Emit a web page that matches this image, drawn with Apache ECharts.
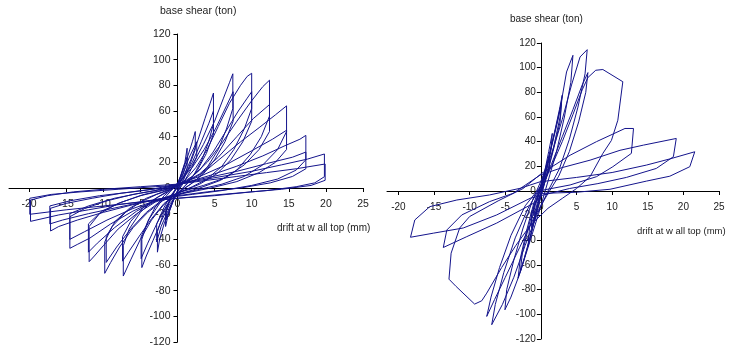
<!DOCTYPE html>
<html>
<head>
<meta charset="utf-8">
<script src="https://cdn.jsdelivr.net/npm/echarts@6/dist/echarts.min.js"></script>
<style>
  html, body { margin: 0; padding: 0; background: #fff; }
  #chart { width: 737px; height: 356px; }
</style>
</head>
<body>
<div id="chart"></div>
<script>
// tick labels
var xTicks = [-20, -15, -10, -5, 0, 5, 10, 15, 20, 25];
var yTitle = 'base shear (ton)';
var xTitle = 'drift at w all top (mm)';

// left wall: [drift mm, shear ton], one array per cycle
var L1 = [[0,0],[0.4,8],[0.9,17],[1.3,24],[1.3,15],[0.7,6],[0.1,-1],[-0.5,-9],[-1.1,-18],[-1.5,-25],[-1.5,-16],[-0.9,-7],[-0.3,-1]];
var L2 = [[-0.3,-1],[0.4,9],[1.0,20],[1.3,31],[1.3,20],[0.6,8],[0,-2],[-0.7,-12],[-1.3,-22],[-1.6,-30],[-1.6,-19],[-0.9,-8],[-0.2,0]];
var L3 = [[-0.2,0],[0.6,12],[1.4,25],[2.0,36],[2.4,44],[2.4,30],[1.6,17],[0.8,6],[0,-3],[-0.9,-14],[-1.8,-28],[-2.4,-40],[-2.7,-50],[-2.7,-34],[-1.9,-20],[-1,-9],[-0.2,-1]];
var L4 = [[-0.2,-1],[0.7,11],[1.6,24],[2.6,36],[2.6,24],[1.7,13],[0.7,3],[-0.3,-6],[-1.3,-18],[-2.2,-30],[-2.8,-42],[-2.8,-28],[-1.8,-15],[-0.8,-5],[0,0]];
var L5 = [[0,0],[0.8,9],[1.8,22],[2.8,38],[3.7,54],[4.4,66],[4.85,74],[4.85,50],[4.2,36],[3.3,22],[2.2,10],[1.1,2],[0,-5],[-1.1,-13],[-2.2,-26],[-3.3,-41],[-4.2,-53],[-4.8,-62],[-4.8,-40],[-4.0,-26],[-3.0,-15],[-1.8,-6],[-0.6,0]];
var L6 = [[-0.6,0],[0.8,8],[2,20],[3.2,36],[4.2,50],[4.85,60],[4.85,42],[3.9,27],[2.7,14],[1.4,4],[0,-4],[-1.4,-13],[-2.8,-28],[-4,-43],[-4.9,-55],[-4.9,-38],[-3.8,-24],[-2.4,-12],[-1,-3]];
var L7 = [[-1,-3],[0.5,6],[2,18],[3.5,34],[5,52],[6.2,70],[7,82],[7.46,89],[7.46,62],[6.6,46],[5.5,30],[4,16],[2.5,6],[1,0],[-0.5,-6],[-2,-14],[-3.5,-25],[-5,-40],[-6.3,-56],[-7.3,-68.6],[-7.3,-45],[-6.5,-32],[-5,-19],[-3.2,-9],[-1.5,-3]];
var L8 = [[-1.5,-3],[0.3,5],[2,16],[3.6,30],[5.2,47],[6.6,64],[7.5,75],[7.5,52],[6.4,36],[5,22],[3.5,11],[1.8,3],[0,-4],[-1.8,-12],[-3.5,-24],[-5.2,-38],[-6.6,-50],[-7.4,-57],[-7.4,-38],[-6.3,-26],[-4.6,-15],[-2.6,-7],[-1,-2]];
var L9 = [[-1,-2],[1,6],[2.5,16],[4,30],[5.5,48],[7,66],[8.5,80],[9.4,87],[10,89.4],[10,62],[9,46],[7.6,30],[6,17],[4,7],[2,1],[0,-4],[-2,-10],[-4,-19],[-6,-31],[-7.8,-46],[-9,-58],[-9.8,-66.5],[-9.8,-42],[-8.8,-30],[-7,-19],[-5,-11],[-2.8,-5],[-0.8,-1]];
var L10 = [[-0.8,-1],[1.2,5],[3,14],[4.8,28],[6.5,44],[8.2,60],[9.4,70],[10,75],[10,52],[8.8,36],[7.2,22],[5.3,11],[3,3],[0.5,-3],[-2,-9],[-4.2,-19],[-6.3,-32],[-8.2,-46],[-9.6,-58],[-9.6,-38],[-8.4,-26],[-6.5,-16],[-4.2,-8],[-2,-3]];
var L11 = [[-2,-3],[0,2],[2,9],[4,20],[6,35],[8,52],[10,68],[11.5,79],[12.4,84],[12.4,56],[11.3,40],[9.8,26],[8,14],[5.8,6],[3,0],[0,-5],[-3,-11],[-5.5,-20],[-8,-32],[-10,-45],[-11.2,-53],[-11.9,-57.4],[-11.9,-30],[-10.5,-20],[-8,-12],[-5,-6],[-2,-2]];
var L12 = [[-2,-2],[0.5,3],[3,11],[5.5,24],[8,40],[10.2,54],[12.4,65],[12.4,44],[11,30],[9,18],[6.5,8],[3.5,2],[0.5,-3],[-2.5,-9],[-5.5,-18],[-8.5,-31],[-10.8,-43],[-12,-50],[-12,-28],[-10.2,-18],[-7.5,-11],[-4.5,-5],[-1.5,-1]];
var L13 = [[-1.5,-1],[1,4],[3.5,12],[6,24],[8.5,36],[11,47],[13.2,57],[14.7,64],[14.7,44],[13.5,30],[11.5,18],[9,9],[6,3],[3,-1],[0,-5],[-3,-10],[-6,-18],[-9,-28],[-11.8,-39],[-13.5,-44],[-14.5,-47],[-14.5,-22.4],[-12.5,-16],[-9.5,-10],[-6,-5],[-3,-2]];
var L14 = [[-3,-2],[0,3],[3,9],[6.5,18],[10,29],[12.8,38],[14.7,45],[14.7,30],[13.2,20],[11,12],[8,5],[4.5,0],[1,-4],[-2.5,-9],[-6,-16],[-9.5,-25],[-12.5,-34],[-14.5,-40],[-14.5,-20],[-12,-14],[-8.5,-8],[-5,-4],[-2,-1]];
var L15 = [[-2,-1],[1,4],[4.5,10],[8,17],[11.5,25],[14.5,33],[16.5,38],[17.3,41],[17.3,22],[16,14],[13.5,7],[10,2],[6,-2],[2,-5],[-2,-8],[-6,-13],[-10,-19],[-13.5,-25],[-16,-30],[-17.1,-33.5],[-17.1,-15.8],[-15,-12],[-11.5,-8],[-7.5,-4],[-3.5,-1]];
var L16 = [[-3.5,-1],[0,3],[4,8],[8,13],[12,19],[15.5,24],[17.3,28],[17.3,15],[15.5,9],[12.5,4],[8.5,0],[4,-3],[0,-6],[-4,-10],[-8,-15],[-12,-20],[-15.5,-25],[-17.2,-28],[-17.2,-14],[-14.5,-10],[-10.5,-6],[-6,-3],[-2,0]];
var L17 = [[-2,0],[2,5],[6,9],[10,13],[14,18],[17.5,22.5],[19.8,26.5],[19.8,8.8],[18.5,4],[16,1],[12,-2],[8,-4],[4,-6],[0,-8],[-4,-10],[-8,-13],[-12,-17],[-16,-21],[-19.8,-26],[-19.8,-9.4],[-17.5,-6],[-14,-3],[-10,-1],[-5,1],[0,3]];
var L18 = [[0,3],[4,6],[8,9],[12,12],[16,15],[19.9,18.7],[19.9,6],[18,2],[14,-1],[10,-3],[5,-6],[0,-8],[-5,-11],[-10,-14],[-15,-17],[-19.9,-20.5],[-19.9,-8],[-17,-5],[-13,-3],[-8,-1],[-3,1],[0,2]];

// right wall
var R1 = [[0,0],[0.5,12],[1,22],[1,14],[0.2,2],[-0.5,-10],[-1,-20],[-1,-12],[-0.2,-2],[0.6,14],[1.2,28],[1.2,18],[0.3,4],[-0.6,-14],[-1.3,-30],[-1.3,-18],[-0.4,-4]];
var R2 = [[-0.4,-4],[0.5,15],[1.1,32],[1.6,46.7],[1.4,32],[0.6,12],[-0.3,-8],[-1.1,-28],[-1.8,-45],[-1.6,-30],[-0.8,-12],[0,2]];
var R3 = [[0,2],[1,24],[2,50],[2.6,66],[3.0,77.7],[2.7,60],[1.8,36],[0.8,12],[-0.3,-10],[-1.4,-35],[-2.4,-56],[-3.2,-70.7],[-2.9,-55],[-2,-32],[-1,-10],[0,5],[1.2,30],[2.2,54],[2.9,72],[2.7,56],[1.7,32],[0.5,6],[-0.8,-22],[-1.9,-46],[-2.9,-66],[-2.6,-50],[-1.6,-26],[-0.6,-6]];
var R4 = [[-0.6,-6],[0.5,14],[1.5,36],[2.5,60],[3.6,96.5],[4.5,110],[4.2,88],[3.3,60],[2.2,32],[1,8],[-0.3,-18],[-1.6,-42],[-2.9,-66],[-4.2,-86],[-5.05,-96.3],[-4.8,-80],[-3.8,-56],[-2.5,-30],[-1.2,-8],[0,8]];
var R5 = [[0,8],[1.5,30],[3,58],[4.3,86],[5.5,108.7],[6.5,114.6],[6.2,95],[5.2,68],[4,42],[2.6,18],[1,0],[-0.6,-20],[-2.2,-44],[-3.8,-70],[-5.4,-92],[-6.9,-108.4],[-6.4,-92],[-5.2,-66],[-3.6,-38],[-1.8,-14],[0,4]];
var R6 = [[0,4],[1.5,22],[3,44],[4.5,66],[5.8,86],[6.6,96],[6.3,80],[5.3,56],[4,32],[2.5,12],[1,-2],[-1,-22],[-3,-46],[-5,-70],[-6.5,-88],[-7.6,-101.7],[-7,-86],[-5.8,-62],[-4.2,-36],[-2.2,-12],[0,4]];
var R7 = [[0,4],[1.5,20],[3,40],[4.5,62],[5.8,82],[6.6,92],[7.7,97.9],[8.7,98.5],[11.5,88.6],[10.8,57.4],[9.9,41],[8.7,30.5],[6.9,11.6],[5,2],[3,-6],[1,-14],[-1.5,-28],[-3.5,-44],[-5.5,-62],[-7.6,-82.8],[-8.3,-89],[-9.3,-91.7],[-11.9,-77.4],[-12.9,-71.5],[-12.6,-50.4],[-11.4,-30],[-10,-20.7],[-6,-8],[-2.5,2],[0.1,14.3]];
var R8 = [[0.1,14.3],[4.1,29],[7.8,40],[11.8,50.7],[13,50.7],[12.7,30.5],[10.1,19.7],[7.8,11.6],[4.1,4.9],[0.3,0.7],[-0.6,-8.6],[-6.2,-26],[-10.4,-37],[-13.7,-45.8],[-13.2,-31.6],[-11.1,-19.4],[-7.2,-8.6],[-3.9,-1.9],[-0.1,12.9]];
var R9 = [[-0.1,12.9],[3,19],[6.9,25],[11.1,33],[14.4,37.2],[19,42.6],[18.6,27.8],[16.2,18.3],[12,11],[8,6],[4,2],[-1.5,-5.9],[-6.2,-19.4],[-10.9,-30],[-15.1,-34.2],[-18.3,-37.5],[-17.7,-23.5],[-15.6,-12.7],[-11.8,-7.3],[-7.2,-3.2],[-2.9,2.2],[-0.1,7.5]];
var R10 = [[-0.1,7.5],[5,11],[10,15],[14.8,21],[18.1,26],[21.6,31.8],[20.9,19.7],[18.1,12],[14.8,8],[9.7,1.4],[5,-1],[0,-2]];

var leftPath = [].concat(L1, L2, L3, L4, L5, L6, L7, L8, L9, L10, L11, L12, L13, L14, L15, L16, L17, L18);
var rightPath = [].concat(R1, R2, R3, R4, R5, R6, R7, R8, R9, R10);

var lineColor = '#14148c';
var textColor = '#222';
var font = 'Liberation Sans, Arial, sans-serif';

// grid boxes in px; the axes are shifted onto the zero lines with offset
var boxes = [
	{ left: 9, top: 34, width: 354, height: 308, xMin: -22.7, size: 10.5, yMargin: 7 },
	{ left: 387, top: 43, width: 332, height: 296, xMin: -21.6, size: 10, yMargin: 5 }
];

function makeX(idx) {
	var b = boxes[idx];
	var zeroFromBottom = b.height / 2;
	return {
		type: 'value', gridIndex: idx, min: b.xMin, max: 25, position: 'bottom',
		offset: -zeroFromBottom,
		axisLine: { onZero: false, lineStyle: { color: '#000', width: 1 } },
		axisTick: { length: 4, customValues: xTicks, lineStyle: { color: '#000' } },
		axisLabel: { customValues: xTicks, margin: 11, color: textColor, fontSize: b.size, fontFamily: font },
		splitLine: { show: false }
	};
}
function makeY(idx) {
	var b = boxes[idx];
	var zeroFromLeft = -b.xMin / (25 - b.xMin) * b.width;
	return {
		type: 'value', gridIndex: idx, min: -120, max: 120, interval: 20, position: 'left',
		offset: -zeroFromLeft,
		axisLine: { show: true, onZero: false, lineStyle: { color: '#000', width: 1 } },
		axisTick: { show: true, length: 4, lineStyle: { color: '#000' } },
		axisLabel: { margin: b.yMargin, color: textColor, fontSize: b.size, fontFamily: font },
		splitLine: { show: false }
	};
}

var chart = echarts.init(document.getElementById('chart'), null, { renderer: 'canvas' });
chart.setOption({
	animation: false,
	backgroundColor: '#fff',
	grid: boxes.map(function(b) {
		return { left: b.left, top: b.top, width: b.width, height: b.height, outerBoundsMode: 'none' };
	}),
	xAxis: [makeX(0), makeX(1)],
	yAxis: [makeY(0), makeY(1)],
	series: [
		{ type: 'line', xAxisIndex: 0, yAxisIndex: 0, data: leftPath, symbol: 'none', lineStyle: { color: lineColor, width: 1 } },
		{ type: 'line', xAxisIndex: 1, yAxisIndex: 1, data: rightPath, symbol: 'none', lineStyle: { color: lineColor, width: 1 } }
	],
	graphic: [
		{ type: 'text', left: 160, top: 6, style: { text: yTitle, fill: textColor, font: '10.5px ' + font } },
		{ type: 'text', left: 510, top: 14, style: { text: yTitle, fill: textColor, font: '10px ' + font } },
		{ type: 'text', left: 277, top: 223, style: { text: xTitle, fill: textColor, font: '10px ' + font } },
		{ type: 'text', left: 637, top: 226, style: { text: xTitle, fill: textColor, font: '9.5px ' + font } }
	]
});
</script>
</body>
</html>
